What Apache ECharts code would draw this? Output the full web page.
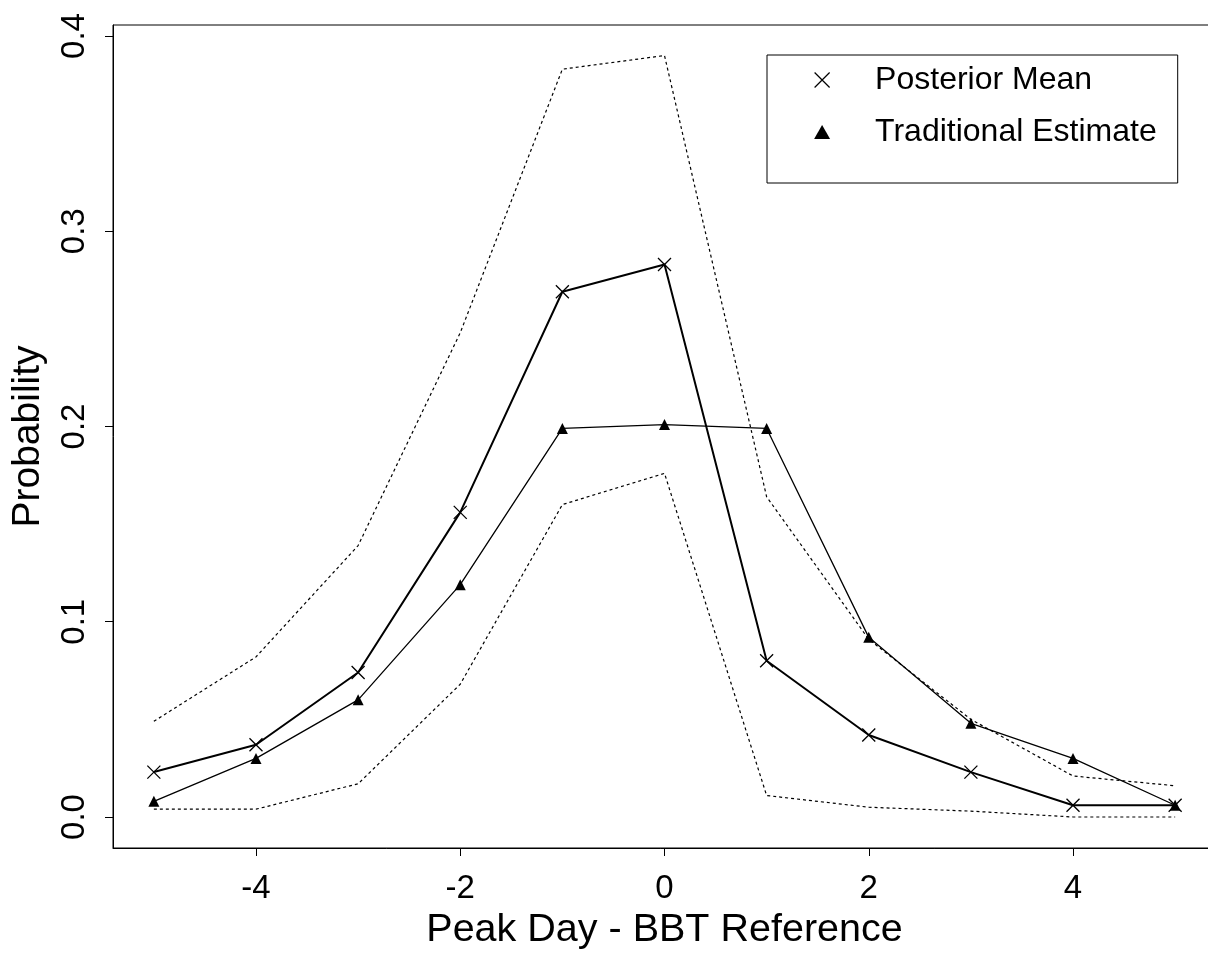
<!DOCTYPE html>
<html>
<head>
<meta charset="utf-8">
<script src="https://cdn.jsdelivr.net/npm/echarts@6/dist/echarts.min.js"></script>
<style>
  html, body { margin: 0; padding: 0; background: #fff; }
  #chart { width: 1208px; height: 957px; }
</style>
</head>
<body>
<div id="chart"></div>
<script>
// peak day minus BBT reference
const days = [-5, -4, -3, -2, -1, 0, 1, 2, 3, 4, 5];
const posteriorMean = [0.023, 0.037, 0.074, 0.156, 0.269, 0.283, 0.080, 0.042, 0.023, 0.006, 0.006];
const traditionalEstimate = [0.008, 0.030, 0.060, 0.119, 0.199, 0.201, 0.199, 0.092, 0.048, 0.030, 0.006];
const upperBound = [0.049, 0.082, 0.139, 0.248, 0.383, 0.390, 0.164, 0.091, 0.050, 0.021, 0.016];
const lowerBound = [0.004, 0.004, 0.017, 0.068, 0.160, 0.176, 0.011, 0.005, 0.003, 0.000, 0.000];
const xTicks = [-4, -2, 0, 2, 4];
const yTicks = [0, 0.1, 0.2, 0.3, 0.4];

const font = 'Liberation Sans, Arial, sans-serif';
const cross = 'path://M0,0L10,10M10,0L0,10';
const tri = 'path://M5,0L10,8.7L0,8.7Z';

const pairs = (ys) => days.map((d, i) => [d, ys[i]]);

const chart = echarts.init(document.getElementById('chart'));

chart.setOption({
  animation: false,
  backgroundColor: '#fff',
  grid: {
    left: 113, top: 25, right: -8, bottom: 109,
    outerBoundsMode: 'none',
    show: true, borderColor: '#000', borderWidth: 1
  },
  legend: {
    left: 767, top: 55,
    orient: 'vertical',
    padding: [9, 21, 35, 47],
    itemGap: 20,
    itemWidth: 16,
    itemHeight: 15,
    borderColor: '#000',
    borderWidth: 1,
    selectedMode: false,
    textStyle: { fontFamily: font, fontSize: 32, color: '#000', padding: [0, 0, 0, 40] },
    data: [
      {
        name: 'Posterior Mean', icon: cross,
        itemStyle: { color: 'rgba(0,0,0,0)', borderColor: '#000', borderWidth: 1.2 }
      },
      {
        name: 'Traditional Estimate', icon: tri,
        itemStyle: { color: '#000', borderWidth: 0 }
      }
    ]
  },
  xAxis: {
    type: 'value',
    min: -5.4, max: 5.4,
    name: 'Peak Day - BBT Reference',
    nameLocation: 'middle',
    nameGap: 61,
    nameTextStyle: { fontFamily: font, fontSize: 39.5, color: '#000' },
    splitLine: { show: false },
    axisLine: { show: true, onZero: false, lineStyle: { color: '#000', width: 1 } },
    axisTick: { show: true, length: 8, customValues: xTicks, lineStyle: { color: '#000' } },
    axisLabel: {
      customValues: xTicks, margin: 24,
      fontFamily: font, fontSize: 33, color: '#000'
    }
  },
  yAxis: {
    type: 'value',
    min: -0.01588, max: 0.40563,
    name: 'Probability',
    nameLocation: 'middle',
    nameRotate: 90,
    nameGap: 65,
    nameTextStyle: { fontFamily: font, fontSize: 39, color: '#000' },
    splitLine: { show: false },
    axisLine: { show: true, onZero: false, lineStyle: { color: '#000', width: 1 } },
    axisTick: { show: true, length: 8, customValues: yTicks, lineStyle: { color: '#000' } },
    axisLabel: {
      customValues: yTicks, margin: 22, rotate: 90,
      fontFamily: font, fontSize: 33, color: '#000',
      formatter: (v) => v.toFixed(1)
    }
  },
  series: [
    {
      name: 'Upper',
      type: 'line',
      data: pairs(upperBound),
      symbol: 'none',
      lineStyle: { color: '#000', width: 1.2, type: [3, 3] },
      emphasis: { disabled: true },
      silent: true
    },
    {
      name: 'Lower',
      type: 'line',
      data: pairs(lowerBound),
      symbol: 'none',
      lineStyle: { color: '#000', width: 1.2, type: [3, 3] },
      emphasis: { disabled: true },
      silent: true
    },
    {
      name: 'Traditional Estimate',
      type: 'line',
      data: pairs(traditionalEstimate),
      symbol: 'triangle',
      symbolSize: 11,
      showAllSymbol: true,
      lineStyle: { color: '#000', width: 1.3 },
      itemStyle: { color: '#000' },
      emphasis: { disabled: true },
      silent: true
    },
    {
      name: 'Posterior Mean',
      type: 'line',
      data: pairs(posteriorMean),
      symbol: cross,
      symbolSize: 13,
      showAllSymbol: true,
      lineStyle: { color: '#000', width: 2 },
      itemStyle: { color: 'rgba(0,0,0,0)', borderColor: '#000', borderWidth: 1.3 },
      emphasis: { disabled: true },
      silent: true
    }
  ]
});
</script>
</body>
</html>
